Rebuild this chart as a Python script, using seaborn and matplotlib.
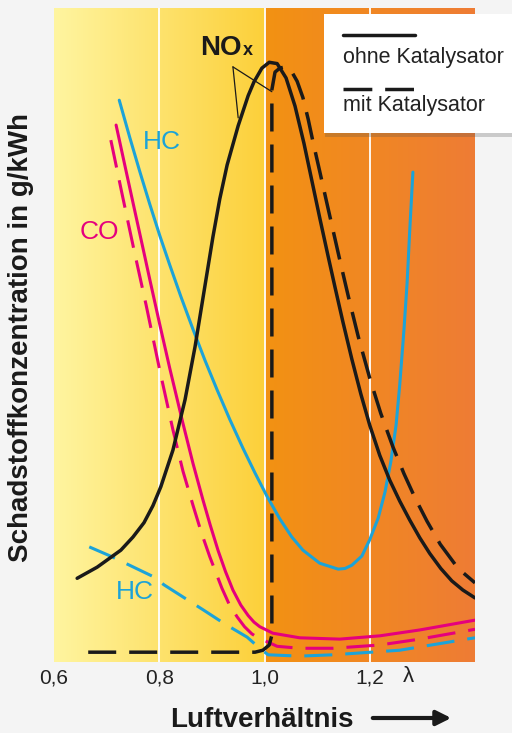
import numpy as np
import pandas as pd
import matplotlib.pyplot as plt
import matplotlib.patheffects as pe
from matplotlib.colors import to_rgb
from matplotlib.lines import Line2D
from matplotlib.patches import Rectangle, FancyArrowPatch
import seaborn as sns

# Luftverhaeltnis (lambda) vs. Schadstoffkonzentration (relative units 0-100)
nox_lam = [0.644, 0.682, 0.727, 0.750, 0.771, 0.788, 0.803, 0.826, 0.849, 0.868, 0.887,
           0.902, 0.915, 0.929, 0.950, 0.969, 0.980, 0.995, 1.009, 1.024, 1.041, 1.058,
           1.075, 1.090, 1.105, 1.121, 1.134, 1.149, 1.166, 1.183, 1.200, 1.219, 1.238,
           1.257, 1.276, 1.295, 1.314, 1.335, 1.356, 1.377, 1.400]
nox_conc = [12.8, 14.5, 17.1, 19.1, 21.3, 23.9, 26.8, 32.4, 40.1, 48.2, 57.6,
            65.0, 70.8, 76.0, 82.0, 86.6, 88.7, 90.8, 91.7, 91.5, 89.3, 85.0,
            79.3, 73.6, 67.9, 62.0, 57.3, 52.0, 46.3, 41.0, 36.2, 31.6, 27.8,
            24.6, 21.7, 19.0, 16.6, 14.3, 12.4, 11.0, 9.8]

nox_kat_lam = [0.665, 0.782, 0.877, 0.982, 0.997, 1.009, 1.014, 1.014, 1.020, 1.029, 1.039,
               1.050, 1.062, 1.073, 1.083, 1.092, 1.105, 1.119, 1.143, 1.159, 1.178, 1.200,
               1.221, 1.244, 1.265, 1.286, 1.309, 1.334, 1.368, 1.400]
nox_kat_conc = [1.5, 1.5, 1.5, 1.5, 1.8, 2.6, 4.1, 87.5, 90.2, 90.8, 91.0,
                90.5, 88.8, 86.3, 83.0, 79.6, 75.0, 70.0, 61.5, 56.0, 49.8, 43.4,
                38.0, 32.9, 28.8, 25.1, 21.5, 18.0, 14.3, 12.1]

co_lam = [0.718, 0.735, 0.754, 0.769, 0.782, 0.801, 0.820, 0.845, 0.864, 0.883, 0.897,
          0.912, 0.926, 0.940, 0.955, 0.969, 0.980, 0.991, 1.016, 1.067, 1.143, 1.219,
          1.295, 1.400]
co_conc = [82.1, 75.8, 68.8, 63.3, 58.5, 51.6, 44.9, 36.5, 30.4, 24.8, 20.9,
           17.0, 13.8, 11.0, 8.7, 7.1, 6.1, 5.4, 4.4, 3.7, 3.5, 4.0,
           4.9, 6.4]

co_kat_lam = [0.708, 0.729, 0.752, 0.775, 0.801, 0.826, 0.845, 0.864, 0.880, 0.896, 0.919,
              0.933, 0.948, 0.962, 0.976, 0.990, 1.005, 1.024, 1.067, 1.130, 1.219, 1.295,
              1.400]
co_kat_conc = [79.8, 71.7, 63.0, 54.6, 44.6, 35.5, 29.2, 24.0, 19.8, 16.1, 11.3,
               8.8, 6.9, 5.4, 4.3, 3.6, 3.1, 2.4, 2.1, 2.1, 2.6, 3.5,
               5.0]

hc_lam = [0.724, 0.744, 0.763, 0.782, 0.801, 0.820, 0.841, 0.864, 0.887, 0.910, 0.934,
          0.959, 0.982, 1.005, 1.029, 1.052, 1.073, 1.105, 1.140, 1.153, 1.166, 1.185,
          1.200, 1.216, 1.229, 1.240, 1.250, 1.257, 1.265, 1.271, 1.276, 1.282]
hc_conc = [85.9, 80.2, 75.0, 70.0, 65.2, 60.7, 55.9, 50.9, 46.1, 41.6, 37.1,
           32.7, 28.9, 25.3, 21.9, 19.1, 17.1, 15.1, 14.2, 14.3, 14.8, 16.2,
           18.7, 22.0, 26.0, 30.6, 36.2, 42.4, 50.8, 58.0, 66.0, 74.9]

hc_kat_lam = [0.667, 0.710, 0.790, 0.809, 0.883, 0.925, 0.967, 0.991, 1.007, 1.067, 1.130,
              1.257, 1.377, 1.400]
hc_kat_conc = [17.6, 16.1, 13.0, 11.8, 8.0, 5.8, 3.8, 2.1, 1.1, 0.9, 1.1,
               1.8, 3.4, 3.7]

x_ticks = [0.6, 0.8, 1.0, 1.2]
x_ticklabels = ['0,6', '0,8', '1,0', '1,2']

BLACK = '#1a1a1a'
MAGENTA = '#e5007d'
BLUE = '#1ca3d8'
BG = '#f4f4f4'

sns.set_theme(style='white')
plt.rcParams['font.family'] = ['Liberation Sans', 'DejaVu Sans']

fig = plt.figure(figsize=(5.12, 7.33), dpi=100, facecolor=BG)
ax = fig.add_axes([54 / 512, 71 / 733, 421 / 512, 654 / 733])
ax.set_facecolor(BG)

# background: yellow gradient (rich) and orange gradient (lean)
gx = np.linspace(0.6, 1.4, 800)
y0, y1 = np.array(to_rgb('#fff5a0')), np.array(to_rgb('#fcd03a'))
o0, o1 = np.array(to_rgb('#f39212')), np.array(to_rgb('#ee7c35'))
ty = np.clip((gx - 0.6) / 0.4, 0, 1)[:, None]
to = np.clip((gx - 1.0) / 0.4, 0, 1)[:, None]
rgb = np.where(gx[:, None] < 1.0, y0 + (y1 - y0) * ty, o0 + (o1 - o0) * to)
ax.imshow(rgb[None, :, :], extent=[0.6, 1.4, 0, 100], aspect='auto', zorder=0,
          interpolation='bilinear')
for xv in [0.8, 1.0, 1.2]:
    ax.axvline(xv, color='white', lw=1.3, zorder=1)


def draw(lam, conc, color, dashed, lw):
    df = pd.DataFrame({'lam': lam, 'conc': conc})
    px = lw * 100 / 72
    ls = (0, (28 / px, 13 / px)) if dashed else '-'
    sns.lineplot(data=df, x='lam', y='conc', color=color, linewidth=lw, linestyle=ls,
                 estimator=None, sort=False, ax=ax, zorder=3)
    ax.lines[-1].set_solid_joinstyle('round')
    ax.lines[-1].set_dash_joinstyle('round')


draw(hc_kat_lam, hc_kat_conc, BLUE, True, 2.2)
draw(co_kat_lam, co_kat_conc, MAGENTA, True, 2.2)
draw(hc_lam, hc_conc, BLUE, False, 2.2)
draw(co_lam, co_conc, MAGENTA, False, 2.2)
draw(nox_kat_lam, nox_kat_conc, BLACK, True, 2.5)
draw(nox_lam, nox_conc, BLACK, False, 2.5)

# labels in the plot
ax.text(0.805, 79.5, 'HC', color=BLUE, fontsize=19, ha='center', va='center', zorder=4)
ax.text(0.687, 65.7, 'CO', color=MAGENTA, fontsize=19, ha='center', va='center', zorder=4)
ax.text(0.754, 10.7, 'HC', color=BLUE, fontsize=19, ha='center', va='center', zorder=4)
ax.text(0.957, 92.8, 'NO', color=BLACK, fontsize=20, fontweight='bold',
        ha='right', va='baseline', zorder=4)
ax.text(0.958, 92.8, 'x', color=BLACK, fontsize=13, fontweight='bold',
        ha='left', va='baseline', zorder=4)
for tip in [(0.950, 83.2), (1.014, 87.2)]:
    ax.annotate('', xy=tip, xytext=(0.940, 91.0),
                arrowprops=dict(arrowstyle='-', color=BLACK, lw=0.9,
                                shrinkA=0, shrinkB=0), zorder=4)

ax.set_xlim(0.6, 1.4)
ax.set_ylim(0, 100)
ax.set_xticks(x_ticks)
ax.set_xticklabels(x_ticklabels, fontsize=15, color='#222222')
ax.set_yticks([])
ax.tick_params(axis='x', length=0, pad=5)
ax.set_xlabel('')
ax.set_ylabel('')
for s in ax.spines.values():
    s.set_visible(False)

fig.text(408 / 512, (733 - 677) / 733, 'λ', fontsize=16, color='#222222',
         ha='center', va='center')

# axis titles
fig.text(170 / 512, 6 / 733, 'Luftverhältnis', fontsize=20, fontweight='bold',
         color=BLACK, ha='left', va='baseline')
fig.add_artist(FancyArrowPatch(
    (370 / 512, 15 / 733), (454 / 512, 15 / 733), transform=fig.transFigure,
    arrowstyle='-|>', mutation_scale=22, lw=3, color=BLACK))
fig.text(21 / 512, 0.539, 'Schadstoffkonzentration in g/kWh', fontsize=20,
         fontweight='bold', color=BLACK, rotation=90, ha='center', va='center')

# legend box
box = Rectangle((324 / 512, (733 - 133) / 733), 0.5, 119 / 733, transform=fig.transFigure,
                facecolor='white', edgecolor='none', zorder=10)
box.set_path_effects([pe.SimplePatchShadow(offset=(1, -3), alpha=0.25), pe.Normal()])
fig.add_artist(box)
fig.add_artist(Line2D([343 / 512, 415 / 512], [(733 - 35) / 733] * 2,
                      transform=fig.transFigure, color=BLACK, lw=2.5, zorder=11))
fig.add_artist(Line2D([343 / 512, 415 / 512], [(733 - 89) / 733] * 2,
                      transform=fig.transFigure, color=BLACK, lw=2.5, zorder=11,
                      linestyle=(0, (8.3, 3.7))))
fig.text(343 / 512, (733 - 57) / 733, 'ohne Katalysator', fontsize=15.5, color='#222222',
         ha='left', va='center', zorder=11)
fig.text(343 / 512, (733 - 106) / 733, 'mit Katalysator', fontsize=15.5, color='#222222',
         ha='left', va='center', zorder=11)

fig.savefig('out.png', dpi=100, facecolor=BG)
